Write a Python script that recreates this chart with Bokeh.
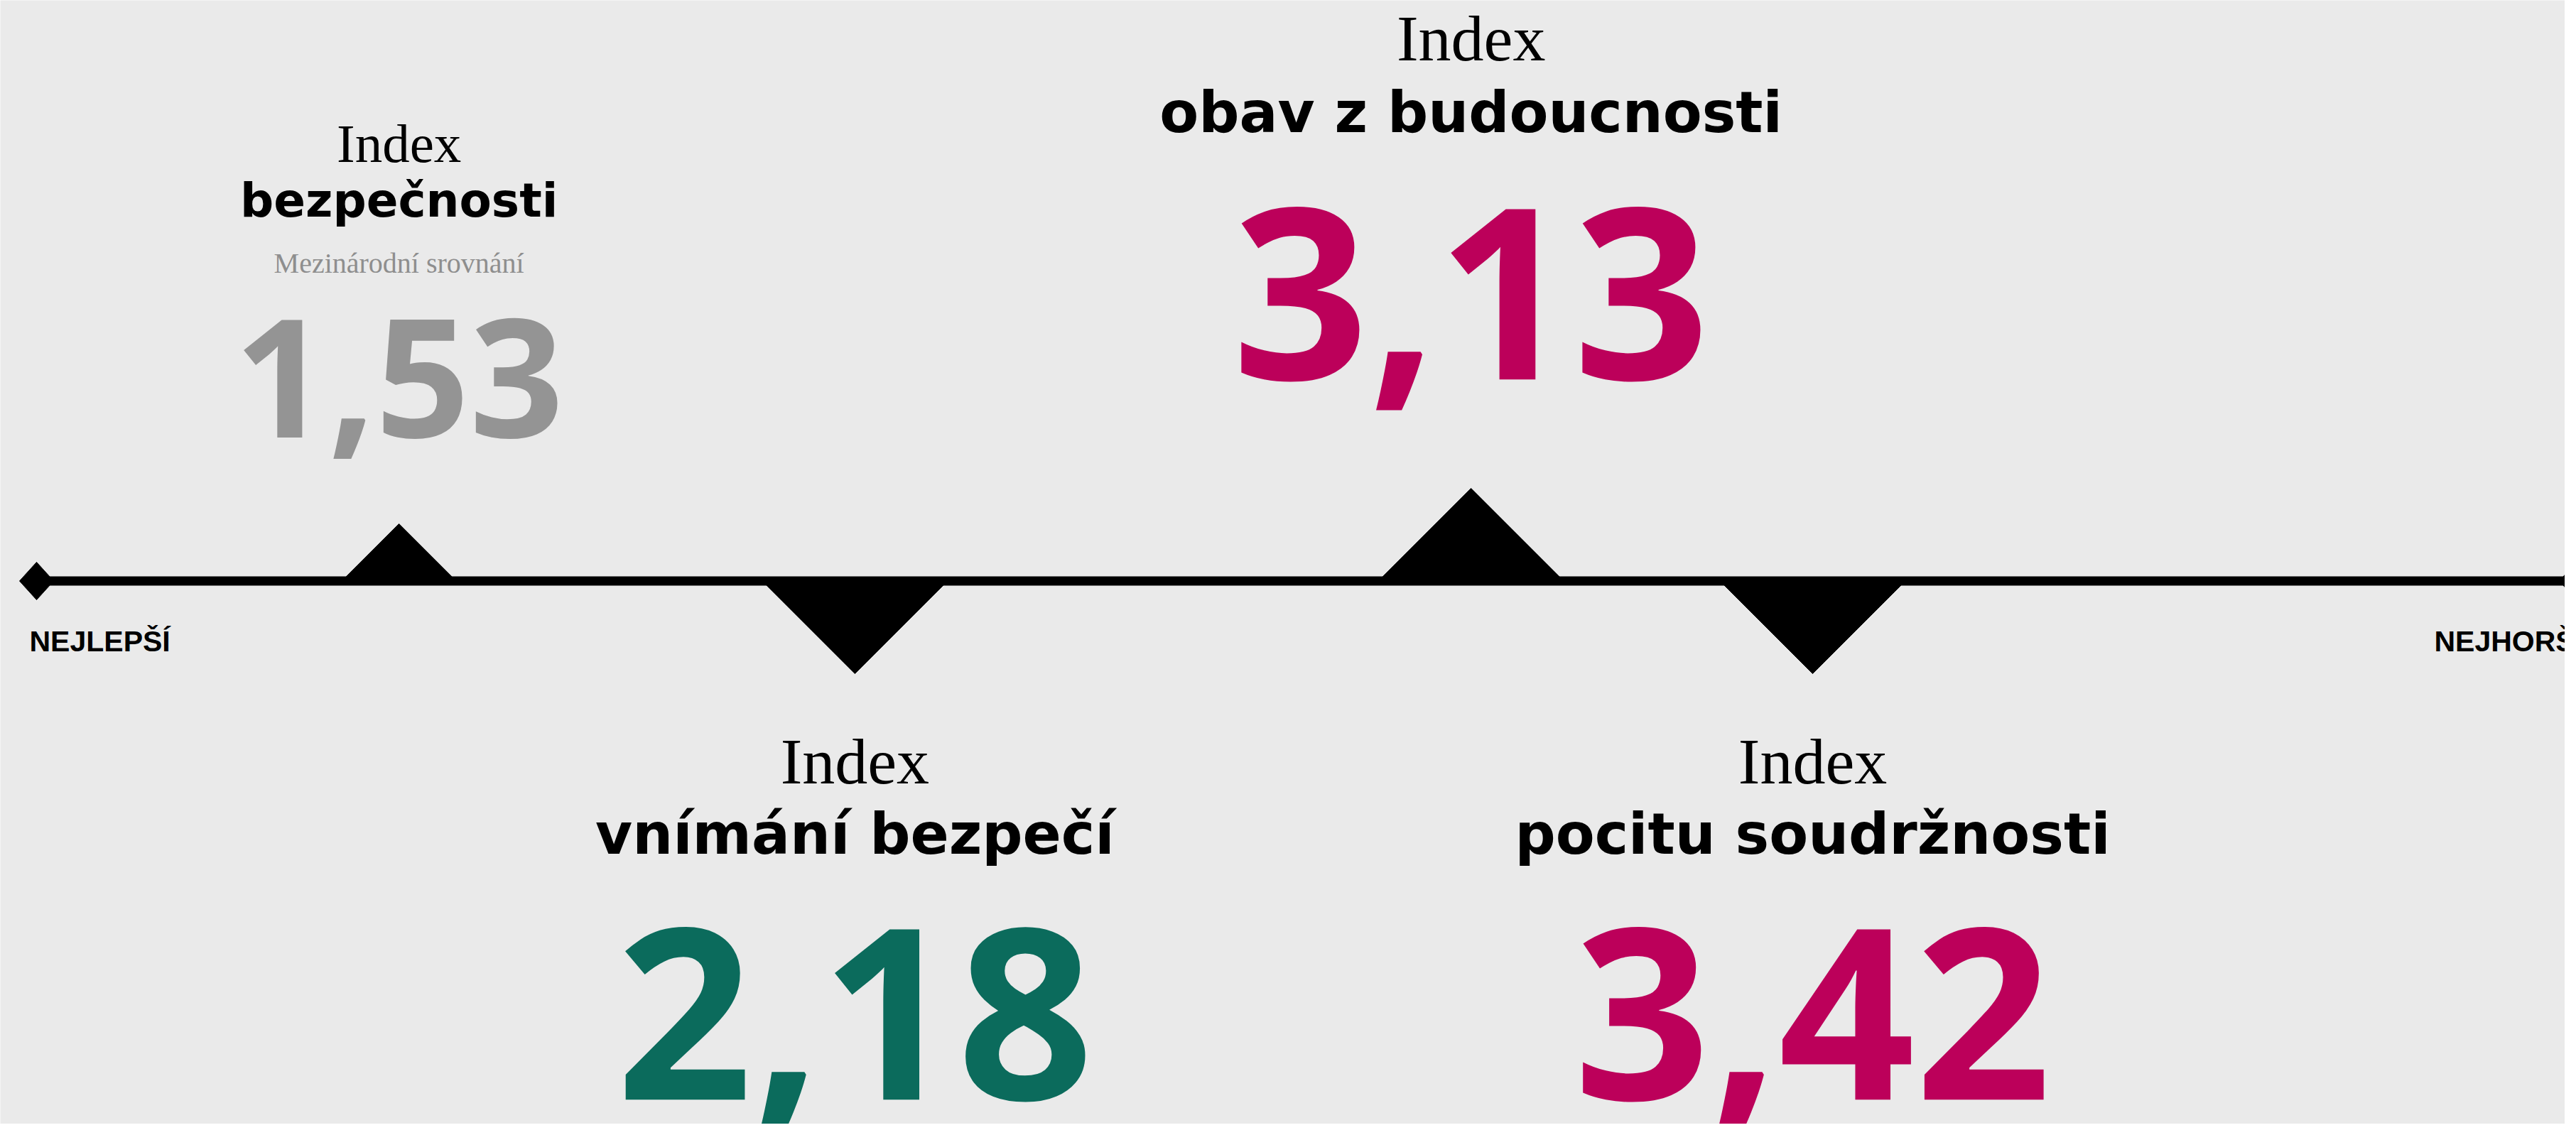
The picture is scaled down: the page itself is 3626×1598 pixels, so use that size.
import math
from bokeh.plotting import figure
from bokeh.models import Range1d
from bokeh.core.properties import value
from bokeh.embed import file_html
from bokeh.resources import INLINE

# ---------------- data ----------------
index_names = ["bezpečnosti", "vnímání bezpečí", "obav z budoucnosti", "pocitu soudržnosti"]
index_values = [1.53, 2.18, 3.13, 3.42]
# position of each index marker on the scale, 0 = NEJLEPŠÍ, 1 = NEJHORŠÍ
scale_pos = [0.1427, 0.3222, 0.5648, 0.6993]
subtitles = ["Mezinárodní srovnání", "", "", ""]
scale_ends = ["NEJLEPŠÍ", "NEJHORŠÍ"]
scale_end_pos = [0.0, 1.0]

# ---------------- style / layout ----------------
BG = "#eaeaea"
value_colors = ["#949494", "#0b6b5c", "#bc005a", "#bc005a"]
marker_dir = [-1, 1, -1, 1]          # -1 above the line, +1 below
marker_h = [74, 124, 124, 124]       # triangle height in px
is_small = [True, False, False, False]

W, H = 3610, 1582
K = 3575.0                           # px per scale unit
X0 = 51.0                            # image x of scale position 0
LINE_Y = 817.5
LINE_W = 13


def base(y, size):
    # compensate the renderer's offset of the alphabetic baseline
    return y - (0.36 * size + 1)


p = figure(width=W, height=H, output_backend="svg", toolbar_location=None,
           x_axis_location=None, y_axis_location=None, min_border=0,
           x_range=Range1d((0 - X0) / K, (W - X0) / K),
           y_range=Range1d(H, 0))
p.grid.visible = False
p.outline_line_color = None
p.background_fill_color = BG
p.border_fill_color = BG

# main line
p.segment(x0=[scale_end_pos[0]], y0=[LINE_Y], x1=[scale_end_pos[1] + 0.05], y1=[LINE_Y],
          line_color="black", line_width=LINE_W)

# end diamonds
dxs, dys = [], []
for e in scale_end_pos:
    dxs.append([e - 24 / K, e, e + 24 / K, e])
    dys.append([LINE_Y, LINE_Y - 26.5, LINE_Y, LINE_Y + 26.5])
p.patches(dxs, dys, fill_color="black", line_color="black", line_width=1)

# index triangles
txs, tys = [], []
for pos, d, h in zip(scale_pos, marker_dir, marker_h):
    edge = LINE_Y + d * LINE_W / 2
    apex = edge + d * h
    half = h + LINE_W / 2
    txs.append([pos - half / K, pos, pos + half / K])
    tys.append([LINE_Y, apex, LINE_Y])
p.patches(txs, tys, fill_color="black", line_color="black", line_width=1)

# text layout (baselines in image px)
index_base = [230, 1106, 88, 1106]
name_base = [307, 1204, 188, 1204]
sub_base = [385, 0, 0, 0]
value_base = [617, 1549, 535, 1549]

for i in range(len(index_names)):
    small = is_small[i]
    x = scale_pos[i]
    s_idx = 77 if small else 92
    s_name = 66 if small else 80
    s_val = 232 if small else 336
    p.text(x=[x], y=[base(index_base[i], s_idx)], text=["Index"], text_align="center",
           text_baseline="alphabetic", text_color="black",
           text_font=value("Liberation Serif"), text_font_size=value(f"{s_idx}px"))
    p.text(x=[x], y=[base(name_base[i], s_name)], text=[index_names[i]], text_align="center",
           text_baseline="alphabetic", text_color="black",
           text_font=value("DejaVu Sans"), text_font_style="bold",
           text_font_size=value(f"{s_name}px"))
    if subtitles[i]:
        p.text(x=[x], y=[base(sub_base[i], 40)], text=[subtitles[i]], text_align="center",
               text_baseline="alphabetic", text_color="#8e8e8e",
               text_font=value("Liberation Serif"), text_font_size=value("40px"))
    label = f"{index_values[i]:.2f}".replace(".", ",")
    p.text(x=[x], y=[base(value_base[i], s_val)], text=[label], text_align="center",
           text_baseline="alphabetic", text_color=value_colors[i],
           text_font=value("Open Sans"), text_font_style="bold",
           text_font_size=value(f"{s_val}px"))

# scale end labels
p.text(x=[scale_end_pos[0] - 10 / K], y=[base(918, 41)], text=[scale_ends[0]], text_align="left",
       text_baseline="alphabetic", text_color="black",
       text_font=value("Liberation Sans"), text_font_style="bold",
       text_font_size=value("41px"))
p.text(x=[scale_end_pos[1] - 200 / K], y=[base(918, 41)], text=[scale_ends[1]], text_align="left",
       text_baseline="alphabetic", text_color="black",
       text_font=value("Liberation Sans"), text_font_style="bold",
       text_font_size=value("41px"))

open("out.html", "w").write(file_html(p, INLINE))
